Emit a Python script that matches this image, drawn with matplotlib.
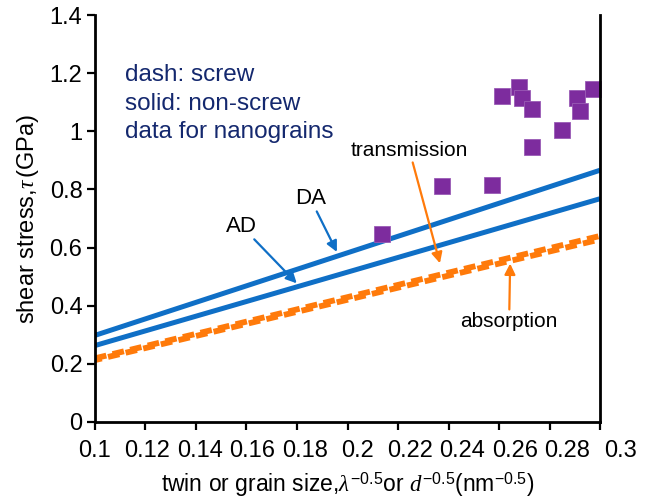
import matplotlib
matplotlib.use("Agg")
import matplotlib.pyplot as plt
import matplotlib.transforms as mtransforms
import numpy as np

plt.rcParams['font.family'] = ['Liberation Sans', 'DejaVu Sans']
plt.rcParams['mathtext.fontset'] = 'custom'
plt.rcParams['mathtext.rm'] = 'Liberation Sans'
plt.rcParams['mathtext.it'] = 'Liberation Serif:italic'

# model lines, end points at x = 0.1 and x = 0.3
x_line = [0.1, 0.3]
da_nonscrew = [0.298, 0.866]
ad_nonscrew = [0.263, 0.768]
trans_screw = [0.219, 0.640]
absorb_screw = [0.213, 0.628]

# nanograin data
x_nano = [0.2135, 0.2373, 0.2571, 0.2611, 0.2680, 0.2692, 0.2730, 0.2730,
          0.2848, 0.2910, 0.2921, 0.2973]
y_nano = [0.647, 0.813, 0.815, 1.122, 1.153, 1.114, 1.076, 0.945,
          1.004, 1.116, 1.070, 1.144]

xticks = [0.1, 0.12, 0.14, 0.16, 0.18, 0.2, 0.22, 0.24, 0.26, 0.28, 0.3]
xticklabels = ['0.1', '0.12', '0.14', '0.16', '0.18', '0.2', '0.22', '0.24', '0.26', '0.28', '0.3']
yticks = [0, 0.2, 0.4, 0.6, 0.8, 1.0, 1.2, 1.4]
yticklabels = ['0', '0.2', '0.4', '0.6', '0.8', '1', '1.2', '1.4']

blue = '#0F6FC6'
orange = '#FF7A0A'
purple = '#7D2C9E'
navy = '#14286E'

fig = plt.figure(figsize=(6.51, 5.0), dpi=100)
ax = fig.add_axes([0.1459, 0.156, 0.7758, 0.814])

ax.plot(x_line, da_nonscrew, color=blue, lw=3.6, solid_capstyle='butt')
ax.plot(x_line, ad_nonscrew, color=blue, lw=3.6, solid_capstyle='butt')
ax.plot(x_line, trans_screw, color=orange, lw=4.2, ls=(0, (2.0, 1.1)))
ax.plot(x_line, absorb_screw, color=orange, lw=4.2, ls=(0.8, (2.0, 1.1)))
ax.plot(x_nano, y_nano, ls='none', marker='s', ms=11.5, color=purple,
        markeredgecolor='#9A5BB5', markeredgewidth=0.6, clip_on=False)

ax.set_xlim(0.1, 0.3)
ax.set_ylim(0, 1.4)
ax.spines['top'].set_visible(False)
for s in ['left', 'bottom', 'right']:
    ax.spines[s].set_linewidth(2.0)
ax.set_xticks(xticks)
ax.set_xticklabels(xticklabels, fontsize=17)
ax.set_yticks(yticks)
ax.set_yticklabels(yticklabels, fontsize=17)
ax.tick_params(axis='both', direction='out', length=6, width=1.6)
ax.tick_params(axis='x', pad=7)
ax.tick_params(axis='y', pad=3)

# the tick labels drift slightly to the right along the axis
for i, lab in enumerate(ax.get_xticklabels()):
    lab.set_transform(lab.get_transform() +
                      mtransforms.ScaledTranslation(i * 2.0 / 100, 0, fig.dpi_scale_trans))

ax.set_ylabel(r'shear stress,$\tau\,$(GPa)', fontsize=17, labelpad=6)
ax.set_xlabel(r'twin or grain size,$\lambda^{\mathrm{-0.5}}$or $d^{\mathrm{-0.5}}$(nm$^{\mathrm{-0.5}}$)',
              fontsize=16.5, labelpad=6)

for i, t in enumerate(['dash: screw', 'solid: non-screw', 'data for nanograins']):
    ax.text(0.1119, 1.193 - i * 0.098, t, color=navy, fontsize=17.5, va='center', ha='left')

arrow_blue = dict(arrowstyle='-|>', color=blue, lw=1.6, mutation_scale=16, shrinkA=0, shrinkB=0)
arrow_orange = dict(arrowstyle='-|>', color=orange, lw=1.6, mutation_scale=16, shrinkA=0, shrinkB=0)
ax.annotate('DA', xy=(0.1958, 0.585), xytext=(0.1852, 0.770), fontsize=16,
            ha='center', va='center', arrowprops=arrow_blue)
ax.annotate('AD', xy=(0.1799, 0.477), xytext=(0.1580, 0.674), fontsize=16,
            ha='center', va='center', arrowprops=arrow_blue)
ax.annotate('transmission', xy=(0.2366, 0.546), xytext=(0.2245, 0.935), fontsize=15,
            ha='center', va='center', arrowprops=arrow_orange)
ax.annotate('absorption', xy=(0.2644, 0.545), xytext=(0.2640, 0.345), fontsize=15,
            ha='center', va='center', arrowprops=arrow_orange)

fig.savefig('out.png', dpi=100)
